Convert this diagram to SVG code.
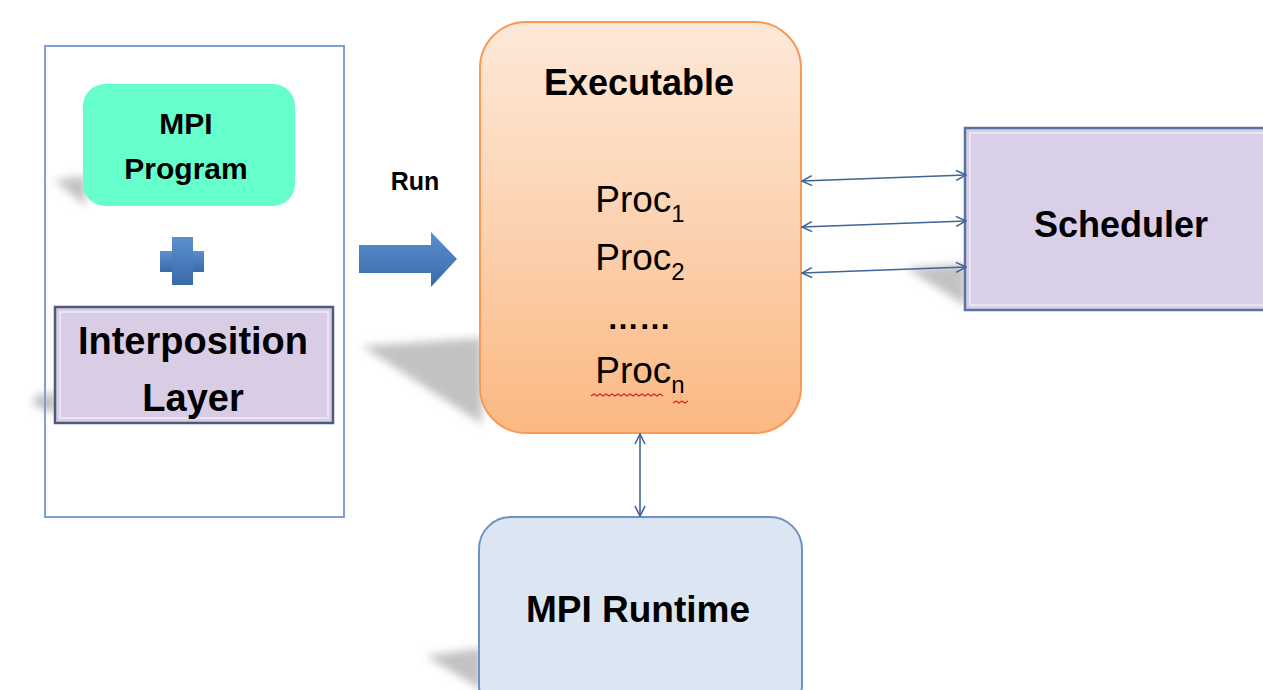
<svg xmlns="http://www.w3.org/2000/svg" width="1263" height="690" viewBox="0 0 1263 690">
  <defs>
    <style>
      .lbl { font-family: "Liberation Sans", Arial, sans-serif; font-weight: bold; fill: #000; text-anchor: middle; }
      .proc { font-family: "Liberation Sans", Arial, sans-serif; font-weight: normal; fill: #000; text-anchor: middle; font-size: 37px; }
      .link { stroke: #3f6496; stroke-width: 1.6; fill: none; marker-start: url(#chev); marker-end: url(#chev); }
      .shadow { fill: #c2c2c2; filter: url(#soft); }
    </style>
    <filter id="soft" x="-50%" y="-50%" width="200%" height="200%">
      <feGaussianBlur stdDeviation="4"/>
    </filter>
    <linearGradient id="exeFill" x1="0" y1="0" x2="0" y2="1">
      <stop offset="0" stop-color="#fde9d9"/>
      <stop offset="0.5" stop-color="#fcd2b0"/>
      <stop offset="1" stop-color="#fbb882"/>
    </linearGradient>
    <linearGradient id="blueFill" x1="0" y1="0" x2="0" y2="1">
      <stop offset="0" stop-color="#5b8fd0"/>
      <stop offset="1" stop-color="#3a6aa8"/>
    </linearGradient>
    <marker id="chev" viewBox="0 0 12 12" refX="11" refY="6" markerWidth="12" markerHeight="12" markerUnits="userSpaceOnUse" orient="auto-start-reverse">
      <path d="M1,1 L11,6 L1,11" fill="none" stroke="#3f6496" stroke-width="1.6"/>
    </marker>
  </defs>

  <rect width="1263" height="690" fill="#ffffff"/>

  <!-- soft cast shadows behind the shapes -->
  <g id="shadows">
    <polygon class="shadow" points="86,176 54,180 86,206"/>
    <polygon class="shadow" points="57,392 34,396 34,406 57,414"/>
    <polygon class="shadow" points="482,338 362,346 482,424"/>
    <polygon class="shadow" points="966,264 906,268 966,306"/>
    <polygon class="shadow" points="482,648 426,656 482,690"/>
  </g>

  <!-- left container -->
  <g id="container">
    <rect x="45" y="46" width="299" height="471" fill="none" stroke="#7fa0d2" stroke-width="2"/>
  </g>

  <g id="mpi-program">
    <rect x="83" y="84" width="212" height="122" rx="22" fill="#66ffcc"/>
    <text class="lbl" x="186" y="134" font-size="30">MPI</text>
    <text class="lbl" x="186" y="179" font-size="30">Program</text>
  </g>

  <g id="plus">
    <rect x="160" y="251" width="44" height="21" fill="url(#blueFill)"/>
    <rect x="172" y="237" width="21" height="48" fill="url(#blueFill)"/>
  </g>

  <g id="interposition">
    <rect x="55" y="307" width="278" height="116" fill="#d9cde6" stroke="#4c5b7c" stroke-width="2.5"/>
    <rect x="60" y="312" width="268" height="106" fill="none" stroke="#ffffff" stroke-opacity="0.45" stroke-width="2"/>
    <text class="lbl" x="193" y="354" font-size="38">Interposition</text>
    <text class="lbl" x="193" y="411" font-size="38">Layer</text>
  </g>

  <g id="run">
    <text class="lbl" x="415" y="190" font-size="25">Run</text>
    <polygon points="359,245 431,245 431,232 457,259 431,287 431,273 359,273" fill="url(#blueFill)"/>
  </g>

  <g id="executable">
    <rect x="480" y="22" width="321" height="411" rx="46" fill="url(#exeFill)" stroke="#f79a55" stroke-width="2"/>
    <text class="lbl" x="639" y="95" font-size="36">Executable</text>
    <text class="proc" x="640" y="212">Proc<tspan font-size="24" dy="10">1</tspan></text>
    <text class="proc" x="640" y="270">Proc<tspan font-size="24" dy="10">2</tspan></text>
    <text class="lbl" x="639" y="329" font-size="32">……</text>
    <text class="proc" x="640" y="383">Proc<tspan font-size="24" dy="10">n</tspan></text>
    <path d="M591,396 l3,-2 l3,2 l3,-2 l3,2 l3,-2 l3,2 l3,-2 l3,2 l3,-2 l3,2 l3,-2 l3,2 l3,-2 l3,2 l3,-2 l3,2 l3,-2 l3,2 l3,-2 l3,2 l3,-2 l3,2 l3,-2 l3,2 M673,403 l3,-2 l3,2 l3,-2 l3,2 l3,-2" fill="none" stroke="#e02020" stroke-width="1.2"/>
  </g>

  <g id="scheduler">
    <rect x="965" y="128" width="310" height="182" fill="#d9cfe8" stroke="#5a74a0" stroke-width="2.5"/>
    <rect x="970" y="133" width="300" height="172" fill="none" stroke="#ffffff" stroke-opacity="0.45" stroke-width="2"/>
    <text class="lbl" x="1121" y="237" font-size="36">Scheduler</text>
  </g>

  <g id="mpi-runtime">
    <rect x="479" y="517" width="323" height="200" rx="32" fill="#dce6f2" stroke="#6f92c4" stroke-width="2"/>
    <text class="lbl" x="638" y="622" font-size="37">MPI Runtime</text>
  </g>

  <!-- connectors -->
  <g id="connectors">
    <line class="link" x1="802" y1="181" x2="966" y2="175"/>
    <line class="link" x1="802" y1="227" x2="966" y2="221"/>
    <line class="link" x1="802" y1="273" x2="966" y2="267"/>
    <line class="link" x1="640" y1="434" x2="640" y2="516"/>
  </g>
</svg>
